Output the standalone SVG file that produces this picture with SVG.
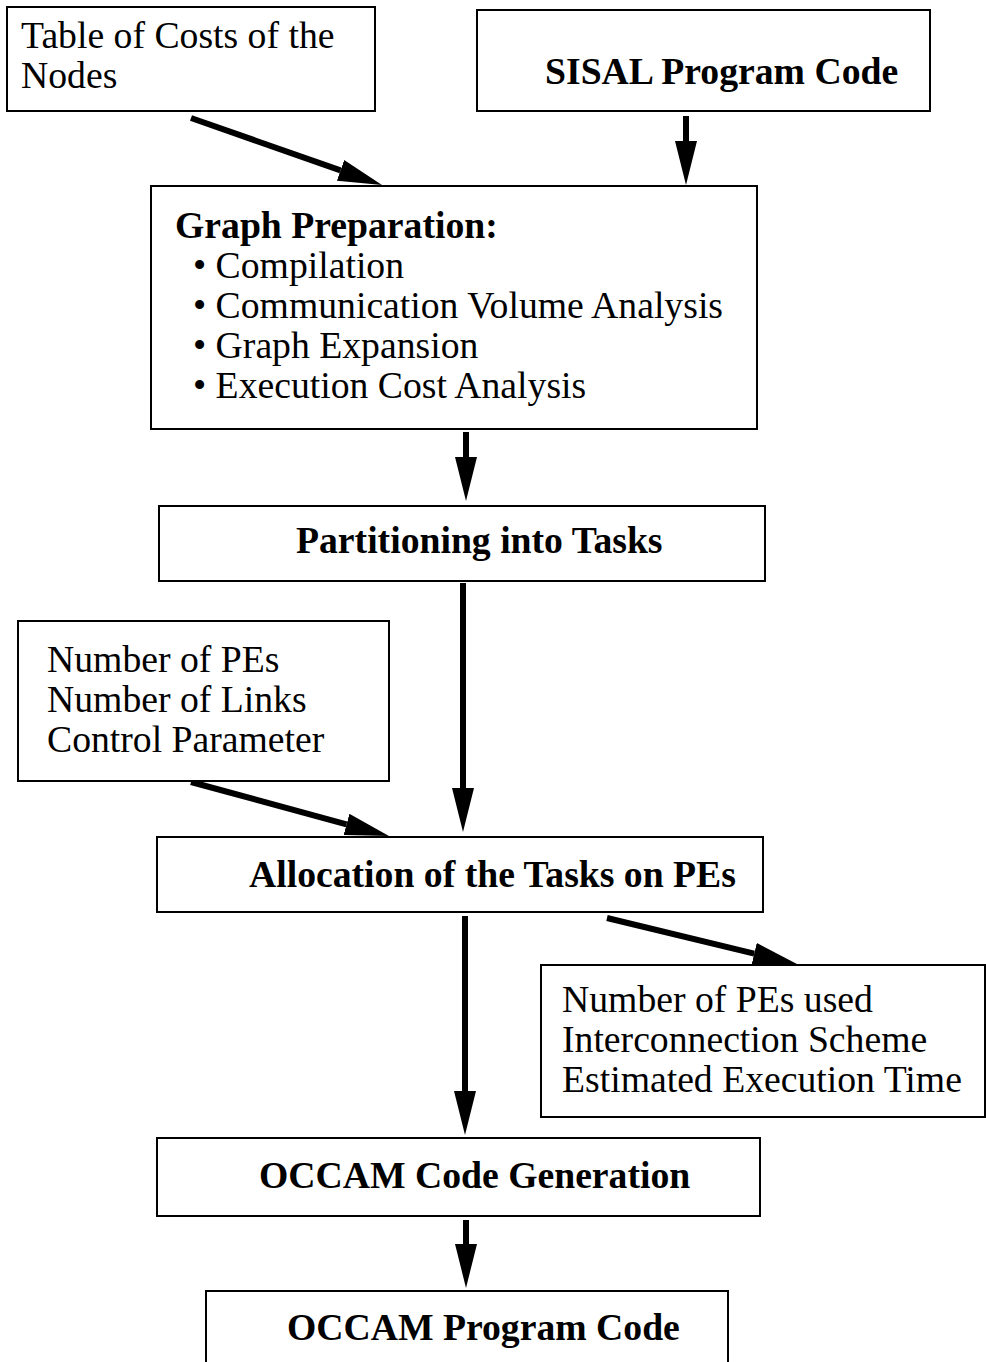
<svg xmlns="http://www.w3.org/2000/svg" width="986" height="1362" viewBox="0 0 986 1362">
  <style>
    .box { fill: #fff; stroke: #000; stroke-width: 2; }
    .t { font-family: "Liberation Serif", "Times New Roman", serif; font-size: 37.7px; fill: #000; }
    .b { font-weight: bold; }
    .link { stroke: #000; stroke-width: 6; fill: none; marker-end: url(#head); }
  </style>
  <defs>
    <marker id="head" markerUnits="userSpaceOnUse" markerWidth="44" markerHeight="22" refX="0" refY="11" orient="auto">
      <path d="M0,0 L44,11 L0,22 z" fill="#000"/>
    </marker>
  </defs>
  <rect width="986" height="1362" fill="#fff"/>

  <g id="connectors">
    <line class="link" x1="191" y1="118" x2="340.5" y2="170.4"/>
    <line class="link" x1="686" y1="116" x2="686" y2="141"/>
    <line class="link" x1="466" y1="432" x2="466" y2="457"/>
    <line class="link" x1="463" y1="583" x2="463" y2="788"/>
    <line class="link" x1="191" y1="782" x2="346.5" y2="824.4"/>
    <line class="link" x1="607" y1="918" x2="754.2" y2="953.6"/>
    <line class="link" x1="465" y1="916" x2="465" y2="1091"/>
    <line class="link" x1="466" y1="1220" x2="466" y2="1244"/>
  </g>

  <g id="cost-table">
    <rect class="box" x="7" y="7" width="368" height="104"/>
    <text class="t" x="21" y="48">Table of Costs of the</text>
    <text class="t" x="21" y="88">Nodes</text>
  </g>

  <g id="sisal-code">
    <rect class="box" x="477" y="10" width="453" height="101"/>
    <text class="t b" x="545" y="84">SISAL Program Code</text>
  </g>

  <g id="graph-preparation">
    <rect class="box" x="151" y="186" width="606" height="243"/>
    <text class="t b" x="175" y="238">Graph Preparation:</text>
    <text class="t" x="193" y="278">• Compilation</text>
    <text class="t" x="193" y="318">• Communication Volume Analysis</text>
    <text class="t" x="193" y="358">• Graph Expansion</text>
    <text class="t" x="193" y="398">• Execution Cost Analysis</text>
  </g>

  <g id="partitioning">
    <rect class="box" x="159" y="506" width="606" height="75"/>
    <text class="t b" x="296" y="553">Partitioning into Tasks</text>
  </g>

  <g id="parameters">
    <rect class="box" x="18" y="621" width="371" height="160"/>
    <text class="t" x="47" y="672">Number of PEs</text>
    <text class="t" x="47" y="712">Number of Links</text>
    <text class="t" x="47" y="752">Control Parameter</text>
  </g>

  <g id="allocation">
    <rect class="box" x="157" y="837" width="606" height="75"/>
    <text class="t b" x="249" y="887">Allocation of the Tasks on PEs</text>
  </g>

  <g id="results">
    <rect class="box" x="541" y="965" width="444" height="152"/>
    <text class="t" x="562" y="1012">Number of PEs used</text>
    <text class="t" x="562" y="1052">Interconnection Scheme</text>
    <text class="t" x="562" y="1092">Estimated Execution Time</text>
  </g>

  <g id="code-generation">
    <rect class="box" x="157" y="1138" width="603" height="78"/>
    <text class="t b" x="259" y="1188">OCCAM Code Generation</text>
  </g>

  <g id="occam-code">
    <rect class="box" x="206" y="1291" width="522" height="90"/>
    <text class="t b" x="287" y="1340">OCCAM Program Code</text>
  </g>
</svg>
